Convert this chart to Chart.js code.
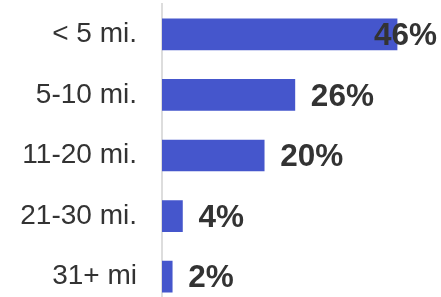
<!DOCTYPE html>
<html>
<head>
<meta charset="utf-8">
<script src="https://cdn.jsdelivr.net/npm/chart.js@4"></script>
<style>
html,body{margin:0;padding:0;background:#fff;overflow:hidden;width:441px;height:297px;}
#wrap{position:relative;width:441px;height:307px;}
</style>
</head>
<body>
<div id="wrap"><canvas id="c"></canvas></div>
<script>
const categories = ["< 5 mi.", "5-10 mi.", "11-20 mi.", "21-30 mi.", "31+ mi"];
const values = [46, 26, 20, 4, 2];
const valueLabels = ["46%", "26%", "20%", "4%", "2%"];

const valueLabelPlugin = {
  id: 'valueLabels',
  afterDatasetsDraw(chart) {
    const ctx = chart.ctx;
    const meta = chart.getDatasetMeta(0);
    ctx.save();
    ctx.font = 'bold 31.5px "Liberation Sans", Arial, sans-serif';
    ctx.fillStyle = '#333333';
    ctx.textBaseline = 'middle';
    ctx.textAlign = 'left';
    meta.data.forEach((bar, i) => {
      const t = valueLabels[i];
      const w = ctx.measureText(t).width;
      const x = Math.min(bar.x + 16, chart.width - 4 - w);
      ctx.fillText(t, x, bar.y + 2);
    });
    ctx.restore();
  }
};

new Chart(document.getElementById('c'), {
  type: 'bar',
  data: {
    labels: categories,
    datasets: [{
      data: values,
      backgroundColor: '#4556CC',
      borderWidth: 0,
      barThickness: 31
    }]
  },
  options: {
    indexAxis: 'y',
    responsive: true,
    maintainAspectRatio: false,
    devicePixelRatio: 1,
    animation: false,
    layout: { padding: { top: 4, right: 23.5, bottom: 0, left: 0 } },
    plugins: { legend: { display: false }, tooltip: { enabled: false } },
    scales: {
      x: { display: false, min: 0, max: 50 },
      y: {
        afterFit(scale) {
          scale.width = 162;
          scale.paddingTop = 0;
          scale.paddingBottom = 0;
        },
        grid: { display: false, drawTicks: false },
        border: { display: true, color: '#dddddd', width: 2 },
        ticks: {
          padding: 25,
          color: '#333333',
          font: { family: '"Liberation Sans", Arial, sans-serif', size: 28 }
        }
      }
    }
  },
  plugins: [valueLabelPlugin]
});
</script>
</body>
</html>
